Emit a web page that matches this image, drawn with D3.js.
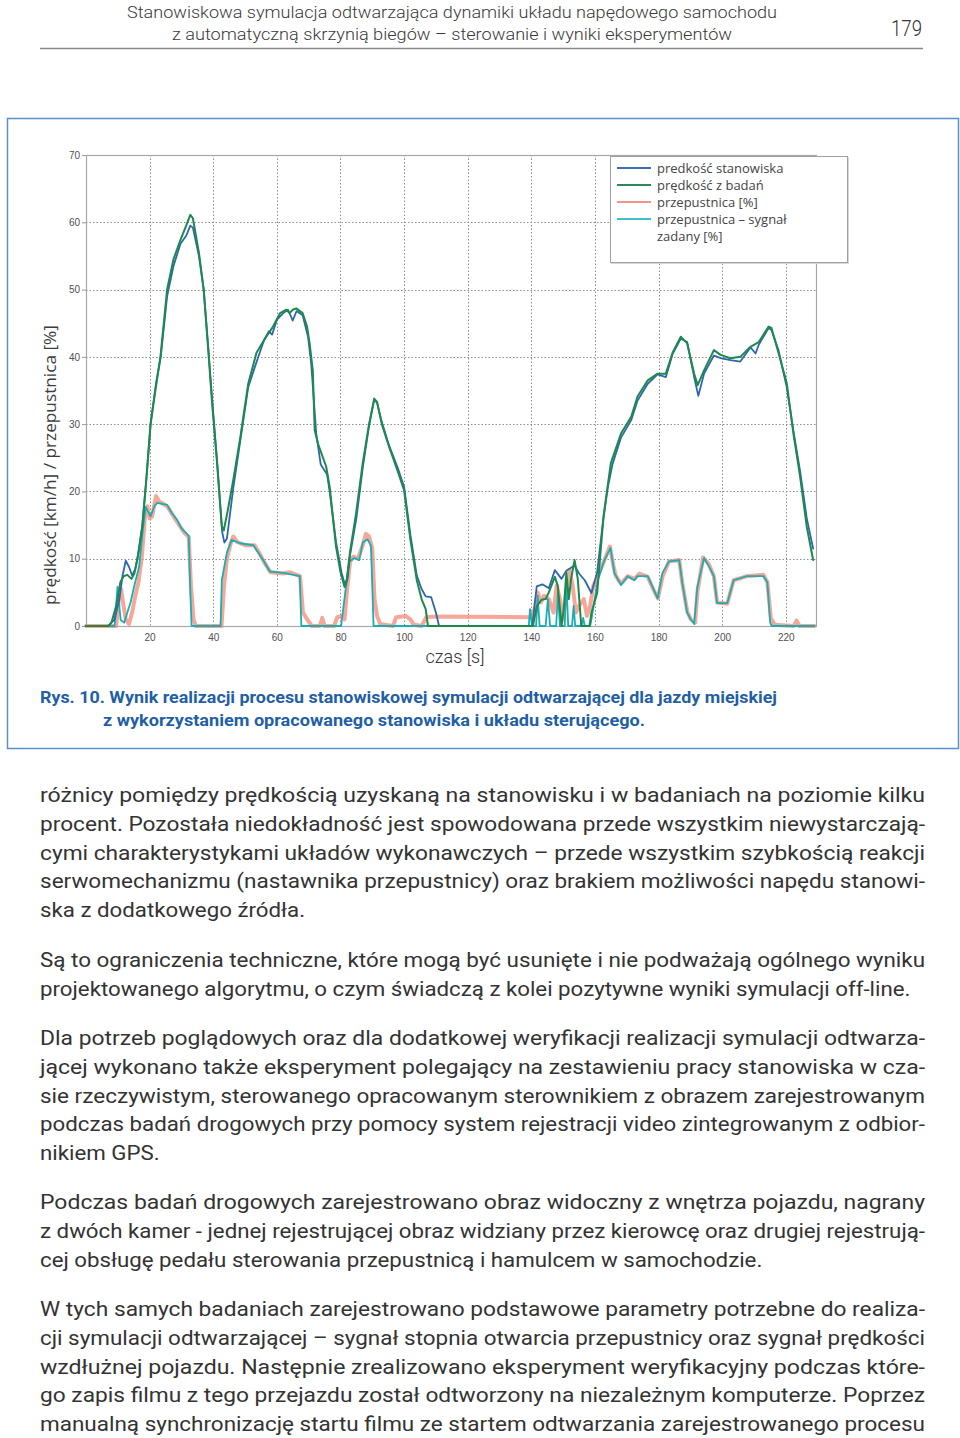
<!DOCTYPE html>
<html>
<head>
<meta charset="utf-8">
<script src="https://cdn.jsdelivr.net/npm/d3@7"></script>
<style>
  body { margin: 0; background: #fff; }
  svg { display: block; }
</style>
</head>
<body>
<svg id="page" width="960" height="1438"></svg>
<script>

/************************************************************************************************************/
// data: [time s, value]

var speedBench = [[0,0],[7,0],[9,1],[10.5,4],[11.5,7.5],[12.5,9.7],[13.5,8.8],[14.5,7.5],[15.5,8.5],[16.5,11],
  [17.7,15],[19,22],[20.3,30],[22,36],[23.5,40],[25.5,49],[27.5,53.5],[29.7,56.8],[31.5,58],[32.8,59.5],[33.6,59.2],
  [35.5,55],[37,50],[38.5,41],[39.6,34],[41.3,24],[42.8,14],[43.5,12.4],[44.3,13],[46.3,20.5],[48.5,27.5],[51,35.5],
  [53.8,39.5],[56,42.5],[57.5,43.8],[58.5,43.3],[60,45.5],[62,46.5],[63.5,47],[65,45.4],[66.2,46.8],[68.1,46.2],
  [69.8,43],[70.8,39],[72.4,28.5],[73.8,24],[75.8,22.5],[76.6,20],[78.6,12.5],[80.3,8],[81.5,6],[82.2,7],[83,10.5],
  [85,16],[87,23.5],[89,29.8],[90.6,33.6],[91.5,33.2],[93,30.3],[95.3,26.8],[98,23.5],[100,20.7],[102,13.5],[104,7.5],
  [105.5,5.5],[106.8,4.4],[108.5,4.3],[110,2],[111,0],[140.3,0],[141.7,5.9],[143.5,6.2],[145.5,5.6],[147.4,8.3],
  [149.5,7],[151,8.2],[153.6,9],[155,7.8],[156.8,6.8],[158.9,4.9],[160.7,8],[162.4,15],[164,20.5],[165.5,24],
  [168.2,28],[171.4,30.6],[173.4,33.5],[176.6,36],[179.7,37.4],[182.3,37],[184.4,40.4],[187,42.7],[189,42.2],
  [191.2,37],[192.5,34.2],[194.3,37.5],[197.4,40.2],[199.5,39.8],[202.6,39.5],[205.7,39.3],[208.9,41.4],[210.5,40.5],
  [211.5,41.8],[214.6,44.3],[215.5,44],[217.7,41],[220.3,35.5],[222.4,29],[224.5,23],[226.6,16],[228.6,11.5]];

var speedTest = [[0,0],[7,0],[8,0.5],[9.5,3],[10.8,6.5],[11.8,7.4],[13,7.6],[14.3,7],[15.2,7.8],[16.2,10],[17.7,14.7],
  [19,22],[20.3,30],[21.8,35],[23.4,40],[25.5,50],[27.5,54.5],[29.7,57.4],[31.5,59.5],[32.8,61.1],[33.6,60.6],
  [35.5,55.5],[37,50],[38.5,40.6],[39.5,34],[41.2,24.2],[42.7,14.8],[43.3,14.2],[44.5,17],[46.3,21.7],[48.5,28],
  [51,36],[53.6,40.6],[56,42.5],[58.8,44.5],[61,46.5],[63,47],[64,46.5],[65,47],[66.1,47.2],[68.1,46.5],[69.5,44.5],
  [70.3,42],[71.3,38],[71.9,29.1],[73,27],[75.5,23.7],[76.6,20.7],[78.6,11.8],[80,8],[81.3,5.8],[82,7],[83,11],
  [84.9,16.7],[87,24.2],[89,30],[90.6,33.8],[91.5,33.3],[93,30],[95.3,26.6],[98,23],[100,20.2],[102,12.8],[104,6.8],
  [105.5,4],[106.8,2.5],[107.5,0],[140.5,0],[141.7,2.9],[143.2,3.9],[144.5,4],[145.5,5],[147.4,7.3],[148.3,6],
  [149.5,0],[150.3,3],[151,7.9],[151.8,4],[152.5,7],[153.6,9.8],[154.6,7],[155.7,0],[158.3,0],[158.9,2],[160.7,4.9],
  [162.7,16.3],[165,24.2],[168.2,28.6],[171.4,31.1],[173.4,34.1],[176.6,36.5],[179.7,37.5],[182.3,37.5],[184.4,40.6],
  [187,43],[189,42],[191.2,37.5],[192.3,35.8],[194.3,38],[197.4,41],[199.5,40.3],[202.6,39.8],[205.7,40],[208.9,41.5],
  [211.5,42.2],[214.6,44.5],[215.5,44.3],[217.7,40.6],[220.3,36.1],[222.4,28.6],[224.5,22.2],[226.6,14.75],[228.6,9.8]];

var throttle = [[0,0],[9.5,0],[10.3,4],[11,5.5],[11.8,3],[12.5,1],[13.5,0.3],[14.5,2],[15.5,4.5],[16.5,6.5],[17.5,10],
  [18.5,16],[19.3,17.8],[20,16],[20.8,16.3],[22,19.3],[23,18.5],[25.5,17.8],[28.6,15.5],[31,13.8],[32.3,13.2],[33,6],
  [33.8,1],[34.5,0],[42.6,0],[43.4,6],[44.3,10],[45.5,12.3],[46.3,13.3],[47.5,12.5],[50,12],[53,12],[54.3,11],[56,9.5],
  [58,8],[62,7.8],[64,8],[67.3,7.4],[68.2,2],[69.5,1],[71,0],[73.5,0],[74.3,1.2],[75,0],[78,0],[79,1.3],[80.5,1.5],
  [81.3,1],[82,5],[83,9.5],[84,10.3],[85.5,10],[87,12],[88,13.7],[89,13.3],[90,11.5],[90.7,4],[91.5,1.5],[92.5,0.3],
  [96.5,0],[97.5,1.3],[100.5,1.5],[102,1],[103,0.2],[105.5,0],[107,1.3],[110,1.4],[140,1.3],[141,2.5],[142,5],[143,3.5],
  [144,4.5],[145.5,4],[147,2],[148,6],[149,4],[150,1],[151,5],[152,8.3],[153,6],[154,2],[155,3],[156.5,4],[157.5,1.5],
  [158.5,3],[159.5,6],[161,7.5],[163,9.8],[164.7,11.8],[165.8,9],[166.5,7.5],[168.2,6.3],[170.3,7.4],[172.4,7],[174,7.8],
  [176.6,7.3],[178.6,5.2],[179.8,4.1],[181.3,7.4],[183.3,9.6],[186.5,9.8],[187.5,6.3],[189,2.2],[190.1,1],[191.5,0.5],
  [192.2,5],[194,10.2],[195.8,9.2],[197.4,7.4],[198.4,3.5],[201.6,3.3],[203.6,6.8],[207.8,7.4],[213,7.6],[214.2,6.5],
  [215.3,1.2],[216.5,0.2],[222.5,0],[223.4,0.8],[224.3,0],[229,0]];

var throttleSet = [[0,0],[9,0],[9.9,5.8],[10.9,0.9],[12,0.5],[13,2],[14,3.5],[15.1,5.8],[16.7,8.8],[17.8,14],[18.75,17.7],
  [20.3,16.3],[21.5,17.8],[22.4,18.3],[25.5,18],[27,16.8],[28.6,15.8],[30,14.5],[31.5,13.8],[32.3,13.4],[32.8,5],[33.2,0],
  [42.3,0],[42.7,6.8],[44.3,10.9],[45.8,12.8],[48.4,12.3],[52.6,12],[54,11],[55.7,9.8],[57.8,8.1],[62,7.9],[67.2,7.4],
  [67.7,0],[80.2,0],[81.5,5],[82.8,9.6],[84.4,10.1],[85.9,9.8],[87,12.4],[88.5,12.9],[89.6,11.9],[90.4,0],[139.2,0],
  [139.6,2.5],[140.2,0],[141.5,0],[142,4.5],[142.6,0],[144.5,0],[145.2,4],[145.9,0],[147.8,0],[148.4,5],[149,0],[150.5,0],
  [151,6.8],[151.6,0],[152.8,0],[153.3,3],[153.8,0],[155.8,0],[156.3,1.2],[156.8,0],[158.5,0],[158.9,1],[160.9,6.8],
  [163,9.8],[164.9,11.6],[166.1,7.9],[168.2,6.1],[170.3,7.4],[172.4,6.8],[173.3,7.4],[176.6,7.4],[178.6,5.3],[179.7,4.1],
  [181.25,7.9],[183.3,9.6],[186.5,9.8],[187.5,6.3],[189,2],[190.1,1],[191.2,0.3],[192.2,5.8],[194.3,10.1],[195.8,8.9],
  [197.4,7.4],[198.4,3.4],[201.6,3.4],[203.6,6.8],[207.8,7.4],[213,7.4],[214.2,6.5],[215.1,0.5],[215.6,0],[229,0]];

var xTicks = [20,40,60,80,100,120,140,160,180,200,220];
var yTicks = [0,10,20,30,40,50,60,70];

var seriesNames = ["predkość stanowiska", "prędkość z badań", "przepustnica [%]", "przepustnica – sygnał"];
var legendExtra = "zadany [%]";

var headerLines = ["Stanowiskowa symulacja odtwarzająca dynamiki układu napędowego samochodu",
  "z automatyczną skrzynią biegów – sterowanie i wyniki eksperymentów"];
var pageNumber = "179";
var captionLines = ["Rys. 10. Wynik realizacji procesu stanowiskowej symulacji odtwarzającej dla jazdy miejskiej",
  "z wykorzystaniem opracowanego stanowiska i układu sterującego."];

// body paragraphs, one entry per printed line
var paragraphs = [
  ["różnicy pomiędzy prędkością uzyskaną na stanowisku i w badaniach na poziomie kilku",
   "procent. Pozostała niedokładność jest spowodowana przede wszystkim niewystarczają-",
   "cymi charakterystykami układów wykonawczych – przede wszystkim szybkością reakcji",
   "serwomechanizmu (nastawnika przepustnicy) oraz brakiem możliwości napędu stanowi-",
   "ska z dodatkowego źródła."],
  ["Są to ograniczenia techniczne, które mogą być usunięte i nie podważają ogólnego wyniku",
   "projektowanego algorytmu, o czym świadczą z kolei pozytywne wyniki symulacji off-line."],
  ["Dla potrzeb poglądowych oraz dla dodatkowej weryfikacji realizacji symulacji odtwarza-",
   "jącej wykonano także eksperyment polegający na zestawieniu pracy stanowiska w cza-",
   "sie rzeczywistym, sterowanego opracowanym sterownikiem z obrazem zarejestrowanym",
   "podczas badań drogowych przy pomocy system rejestracji video zintegrowanym z odbior-",
   "nikiem GPS."],
  ["Podczas badań drogowych zarejestrowano obraz widoczny z wnętrza pojazdu, nagrany",
   "z dwóch kamer - jednej rejestrującej obraz widziany przez kierowcę oraz drugiej rejestrują-",
   "cej obsługę pedału sterowania przepustnicą i hamulcem w samochodzie."],
  ["W tych samych badaniach zarejestrowano podstawowe parametry potrzebne do realiza-",
   "cji symulacji odtwarzającej – sygnał stopnia otwarcia przepustnicy oraz sygnał prędkości",
   "wzdłużnej pojazdu. Następnie zrealizowano eksperyment weryfikacyjny podczas które-",
   "go zapis filmu z tego przejazdu został odtworzony na niezależnym komputerze. Poprzez",
   "manualną synchronizację startu filmu ze startem odtwarzania zarejestrowanego procesu"]
];

/************************************************************************************************************/

var svg = d3.select("#page");
var textFont = "Roboto, 'Noto Sans', sans-serif";

svg.append("rect").attr("width", 960).attr("height", 1438).attr("fill", "#fff");

// fit a text element to a given width
function fitWidth(sel, w){
  sel.attr("textLength", w).attr("lengthAdjust", "spacingAndGlyphs");
}

/************************************************************************************************************/
// running header

svg.selectAll(".header").data(headerLines).enter().append("text")
  .attr("class", "header")
  .attr("x", function(d, i){ return i === 0 ? 127 : 172; })
  .attr("y", function(d, i){ return 18 + i * 22; })
  .attr("font-family", textFont).attr("font-weight", 300)
  .attr("font-size", 17).attr("fill", "#3a3a3a")
  .text(function(d){ return d; })
  .each(function(d, i){ fitWidth(d3.select(this), i === 0 ? 650 : 560); });

svg.append("text")
  .attr("x", 891).attr("y", 36)
  .attr("font-family", textFont).attr("font-weight", 300)
  .attr("font-size", 22).attr("fill", "#333")
  .text(pageNumber)
  .call(fitWidth, 31);

svg.append("line")
  .attr("x1", 40).attr("x2", 923).attr("y1", 48.5).attr("y2", 48.5)
  .attr("stroke", "#8a8a8a").attr("stroke-width", 1.5);

/************************************************************************************************************/
// figure frame

svg.append("rect")
  .attr("x", 7.5).attr("y", 118.5).attr("width", 951).attr("height", 630)
  .attr("fill", "none").attr("stroke", "#5a8fcb").attr("stroke-width", 1.5);

/************************************************************************************************************/
// chart

var margin = {left: 86, top: 155, right: 816, bottom: 626};

var x = d3.scaleLinear().domain([0, 229.5]).range([margin.left, margin.right]);
var y = d3.scaleLinear().domain([0, 70]).range([margin.bottom, margin.top]);

var chart = svg.append("g").attr("class", "chart");

var grid = chart.append("g").attr("class", "grid")
  .attr("stroke", "#8e8e8e").attr("stroke-width", 1).attr("stroke-dasharray", "1.5,2");

grid.selectAll(".vgrid").data(xTicks).enter().append("line")
  .attr("x1", function(d){ return Math.round(x(d)) + 0.5; })
  .attr("x2", function(d){ return Math.round(x(d)) + 0.5; })
  .attr("y1", margin.top).attr("y2", margin.bottom);

grid.selectAll(".hgrid").data(yTicks.slice(1, -1)).enter().append("line")
  .attr("y1", function(d){ return Math.round(y(d)) + 0.5; })
  .attr("y2", function(d){ return Math.round(y(d)) + 0.5; })
  .attr("x1", margin.left).attr("x2", margin.right);

chart.append("line")
  .attr("x1", margin.left).attr("x2", margin.right)
  .attr("y1", margin.bottom + 0.5).attr("y2", margin.bottom + 0.5)
  .attr("stroke", "#444").attr("stroke-dasharray", "1.5,2");

chart.append("rect")
  .attr("x", margin.left + 0.5).attr("y", margin.top + 0.5)
  .attr("width", margin.right - margin.left).attr("height", margin.bottom - margin.top)
  .attr("fill", "none").attr("stroke", "#a8a8a8").attr("stroke-width", 1.2);

var axisy = chart.append("g").attr("transform", "translate(" + margin.left + ",0)")
  .call(d3.axisLeft(y).tickValues(yTicks).tickSize(4).tickPadding(2));
var axisx = chart.append("g").attr("transform", "translate(0," + margin.bottom + ")")
  .call(d3.axisBottom(x).tickValues(xTicks).tickSize(0).tickPadding(8));

[axisy, axisx].forEach(function(a){
  a.select(".domain").remove();
  a.selectAll(".tick line").attr("stroke", "#999");
  a.selectAll(".tick text").attr("fill", "#505050").attr("font-size", 10)
    .attr("font-family", "'Liberation Sans', Arial, sans-serif");
});

var line = d3.line()
  .x(function(d){ return x(d[0]); })
  .y(function(d){ return y(d[1]); });

var plot = chart.append("g").attr("fill", "none")
  .attr("stroke-linejoin", "round").attr("stroke-linecap", "round");

plot.append("path").datum(throttle).attr("d", line)
  .attr("stroke", "#f28a78").attr("stroke-width", 4).attr("stroke-opacity", 0.75);
plot.append("path").datum(throttleSet).attr("d", line)
  .attr("stroke", "#1aaeb2").attr("stroke-width", 1.8);
plot.append("path").datum(speedBench).attr("d", line)
  .attr("stroke", "#2e66b0").attr("stroke-width", 1.8);
plot.append("path").datum(speedTest).attr("d", line)
  .attr("stroke", "#1d8a4c").attr("stroke-width", 2);

// legend
var legend = chart.append("g").attr("transform", "translate(610,156)");
legend.append("rect").attr("x", 1).attr("y", 1).attr("width", 238).attr("height", 107)
  .attr("fill", "#d8d8d8");
legend.append("rect").attr("x", 0.5).attr("y", 0.5).attr("width", 237).attr("height", 106)
  .attr("fill", "#fff").attr("stroke", "#a0a0a0");

var legendColors = ["#3a6fb5", "#2b8a55", "#f49488", "#3fbfc6"];
var entry = legend.selectAll(".entry").data(seriesNames).enter().append("g")
  .attr("transform", function(d, i){ return "translate(0," + (12 + i * 17) + ")"; });
entry.append("line").attr("x1", 7).attr("x2", 41)
  .attr("stroke", function(d, i){ return legendColors[i]; }).attr("stroke-width", 2.2);
entry.append("text").attr("x", 47).attr("dy", "0.35em")
  .attr("font-family", "'Open Sans', sans-serif").attr("font-size", 13).attr("fill", "#444")
  .text(function(d){ return d; });
legend.append("text").attr("x", 47).attr("y", 80).attr("dy", "0.35em")
  .attr("font-family", "'Open Sans', sans-serif").attr("font-size", 13).attr("fill", "#444")
  .text(legendExtra);

// axis labels
svg.append("text")
  .attr("transform", "translate(56,465) rotate(-90)")
  .attr("text-anchor", "middle")
  .attr("font-family", "'Open Sans', sans-serif").attr("font-size", 16.5).attr("fill", "#3c3c3c")
  .text("prędkość [km/h] / przepustnica [%]")
  .call(fitWidth, 280);

svg.append("text")
  .attr("x", 455).attr("y", 663).attr("text-anchor", "middle")
  .attr("font-family", textFont).attr("font-weight", 300).attr("font-size", 18).attr("fill", "#333")
  .text("czas [s]");

// caption
svg.selectAll(".caption").data(captionLines).enter().append("text")
  .attr("class", "caption")
  .attr("x", function(d, i){ return i === 0 ? 40 : 103; })
  .attr("y", function(d, i){ return 703 + i * 23; })
  .attr("font-family", textFont).attr("font-weight", 700)
  .attr("font-size", 16).attr("fill", "#1f5fa6")
  .text(function(d){ return d; })
  .each(function(d, i){ fitWidth(d3.select(this), i === 0 ? 737 : 542); });

/************************************************************************************************************/
// body text

var paraTop = [802, 967, 1045, 1209, 1316];
var lineStep = 28.8;
var bodyWidth = 885;

var body = svg.append("g")
  .attr("font-family", textFont).attr("font-size", 20).attr("fill", "#333");

var ratios = [];
var lastLines = [];

paragraphs.forEach(function(lines, p){
  lines.forEach(function(txt, i){
    var t = body.append("text").attr("x", 40).attr("y", paraTop[p] + i * lineStep).text(txt);
    var natural = t.node().getComputedTextLength();
    var isLast = (i === lines.length - 1) && p !== paragraphs.length - 1;
    if(isLast){
      lastLines.push({node: t, natural: natural});
    } else {
      ratios.push(bodyWidth / natural);
      fitWidth(t, bodyWidth);
    }
  });
});

// last lines of paragraphs keep the compression of the justified ones
var ratio = d3.min(ratios);
lastLines.forEach(function(l){
  fitWidth(l.node, Math.min(bodyWidth, l.natural * ratio));
});

</script>
</body>
</html>
